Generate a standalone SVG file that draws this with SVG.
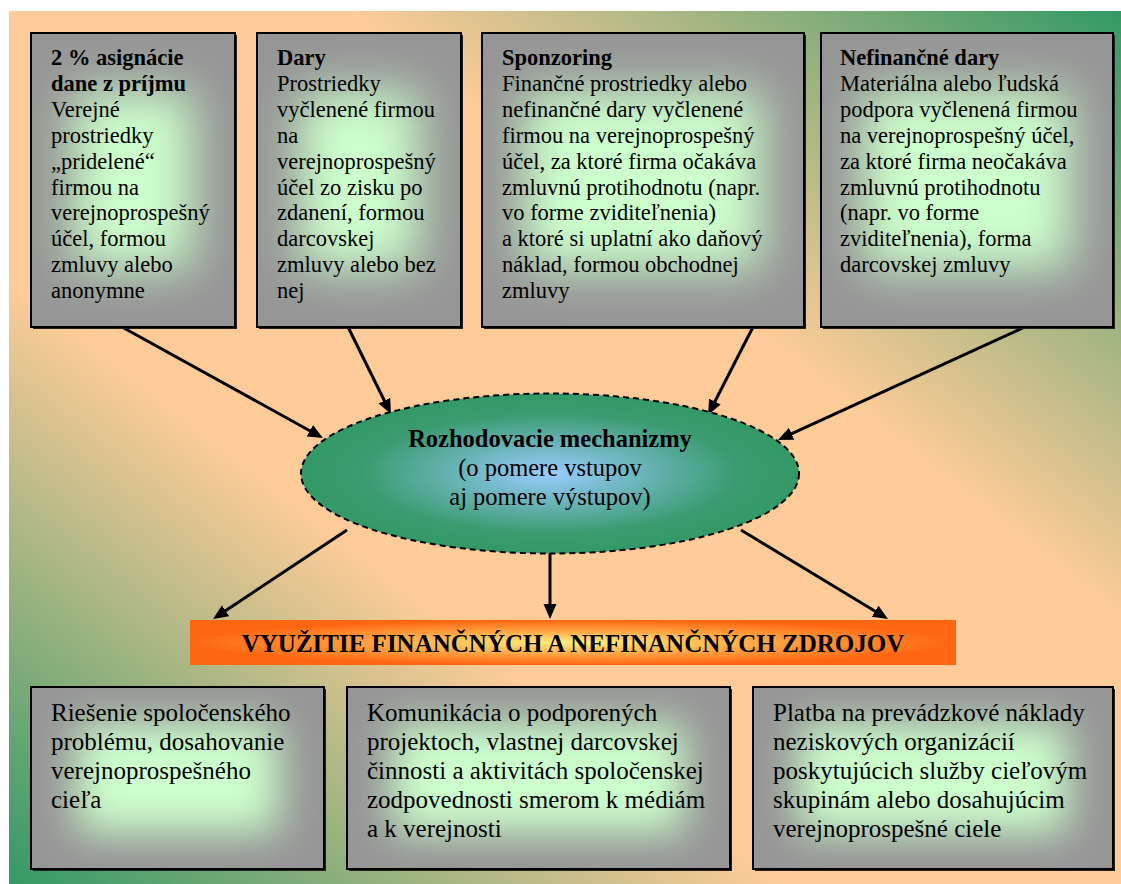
<svg xmlns="http://www.w3.org/2000/svg" width="1121" height="884" viewBox="0 0 1121 884">
<defs>
<linearGradient id="bg" x1="1" y1="0" x2="0" y2="1">
<stop offset="0" stop-color="#339966"/>
<stop offset="0.35" stop-color="#FFCC99"/>
<stop offset="0.65" stop-color="#FFCC99"/>
<stop offset="1" stop-color="#339966"/>
</linearGradient>
<radialGradient id="ellg" cx="0.5" cy="0.5" r="0.5">
<stop offset="0" stop-color="#99CCFF"/>
<stop offset="0.75" stop-color="#3B9B70"/>
<stop offset="1" stop-color="#339966"/>
</radialGradient>
<radialGradient id="bang" cx="0.5" cy="0.5" r="0.5">
<stop offset="0" stop-color="#FFF080"/>
<stop offset="0.55" stop-color="#FFA040"/>
<stop offset="1" stop-color="#FF6611"/>
</radialGradient>
<filter id="glowT" x="0" y="0" width="1" height="1">
<feMorphology in="SourceGraphic" operator="erode" radius="42 58"/>
<feGaussianBlur stdDeviation="24"/>
</filter>
<filter id="glowB" x="0" y="0" width="1" height="1">
<feMorphology in="SourceGraphic" operator="erode" radius="45 36"/>
<feGaussianBlur stdDeviation="20"/>
</filter>
<marker id="ah" markerUnits="userSpaceOnUse" markerWidth="16" markerHeight="14" viewBox="0 0 16 14" refX="1" refY="6.5" orient="auto">
<path d="M0,0 L15,6.5 L0,13 z" fill="#000"/>
</marker>
</defs>
<style>
.box{fill:#969696;stroke:#000;stroke-width:2}
.gT{fill:#CCFFCC;filter:url(#glowT)}
.gB{fill:#CCFFCC;filter:url(#glowB)}
.sh{fill:#222}
.t{font-family:"Liberation Serif","Times New Roman",serif;font-size:22.5px;fill:#000}
.tb{font-family:"Liberation Serif","Times New Roman",serif;font-size:25px;fill:#000}
.b{font-weight:bold}
.c{stroke:#000;stroke-width:3;fill:none;marker-end:url(#ah)}
</style>
<rect x="9" y="11" width="1112" height="873" fill="url(#bg)"/>

<g id="connectors">
<line class="c" x1="122" y1="327" x2="310.7" y2="431.2"/>
<line class="c" x1="348" y1="327" x2="384.8" y2="401.5"/>
<line class="c" x1="753" y1="327" x2="714.4" y2="402.5"/>
<line class="c" x1="1025" y1="327" x2="790.7" y2="434.2"/>
<line class="c" x1="347" y1="530" x2="224.7" y2="611.3"/>
<line class="c" x1="550" y1="553" x2="550" y2="605"/>
<line class="c" x1="741" y1="530" x2="876" y2="611.7"/>
</g>

<g id="n1">
<rect class="sh" x="33" y="35" width="204" height="294"/>
<rect class="box" x="31" y="33" width="204" height="294"/>
<rect class="gT" x="32" y="34" width="202" height="292"/>
<text class="t"><tspan class="b" x="51" y="65">2 % asignácie</tspan><tspan class="b" x="51" y="90.9">dane z príjmu</tspan><tspan x="51" y="116.8">Verejné</tspan><tspan x="51" y="142.7">prostriedky</tspan><tspan x="51" y="168.6">„pridelené“</tspan><tspan x="51" y="194.5">firmou na</tspan><tspan x="51" y="220.4">verejnoprospešný</tspan><tspan x="51" y="246.3">účel, formou</tspan><tspan x="51" y="272.2">zmluvy alebo</tspan><tspan x="51" y="298.1">anonymne</tspan></text>
</g>

<g id="n2">
<rect class="sh" x="259" y="35" width="204" height="294"/>
<rect class="box" x="257" y="33" width="204" height="294"/>
<rect class="gT" x="258" y="34" width="202" height="292"/>
<text class="t"><tspan class="b" x="277" y="65">Dary</tspan><tspan x="277" y="90.9">Prostriedky</tspan><tspan x="277" y="116.8">vyčlenené firmou</tspan><tspan x="277" y="142.7">na</tspan><tspan x="277" y="168.6">verejnoprospešný</tspan><tspan x="277" y="194.5">účel zo zisku po</tspan><tspan x="277" y="220.4">zdanení, formou</tspan><tspan x="277" y="246.3">darcovskej</tspan><tspan x="277" y="272.2">zmluvy alebo bez</tspan><tspan x="277" y="298.1">nej</tspan></text>
</g>

<g id="n3">
<rect class="sh" x="484" y="35" width="322" height="294"/>
<rect class="box" x="482" y="33" width="322" height="294"/>
<rect class="gT" x="483" y="34" width="320" height="292"/>
<text class="t"><tspan class="b" x="502" y="65">Sponzoring</tspan><tspan x="502" y="90.9">Finančné prostriedky alebo</tspan><tspan x="502" y="116.8">nefinančné dary vyčlenené</tspan><tspan x="502" y="142.7">firmou na verejnoprospešný</tspan><tspan x="502" y="168.6">účel, za ktoré firma očakáva</tspan><tspan x="502" y="194.5">zmluvnú protihodnotu (napr.</tspan><tspan x="502" y="220.4">vo forme zviditeľnenia)</tspan><tspan x="502" y="246.3">a ktoré si uplatní ako daňový</tspan><tspan x="502" y="272.2">náklad, formou obchodnej</tspan><tspan x="502" y="298.1">zmluvy</tspan></text>
</g>

<g id="n4">
<rect class="sh" x="823" y="35" width="292" height="294"/>
<rect class="box" x="821" y="33" width="292" height="294"/>
<rect class="gT" x="822" y="34" width="290" height="292"/>
<text class="t"><tspan class="b" x="840" y="65">Nefinančné dary</tspan><tspan x="840" y="90.9">Materiálna alebo ľudská</tspan><tspan x="840" y="116.8">podpora vyčlenená firmou</tspan><tspan x="840" y="142.7">na verejnoprospešný účel,</tspan><tspan x="840" y="168.6">za ktoré firma neočakáva</tspan><tspan x="840" y="194.5">zmluvnú protihodnotu</tspan><tspan x="840" y="220.4">(napr. vo forme</tspan><tspan x="840" y="246.3">zviditeľnenia), forma</tspan><tspan x="840" y="272.2">darcovskej zmluvy</tspan></text>
</g>

<g id="mechanizmy">
<ellipse cx="550" cy="473.5" rx="249" ry="80" fill="url(#ellg)" stroke="#000" stroke-width="2" stroke-dasharray="6 4"/>
<text class="t" text-anchor="middle" style="font-size:24.5px"><tspan class="b" x="550" y="447">Rozhodovacie mechanizmy</tspan><tspan x="550" y="476">(o pomere vstupov</tspan><tspan x="550" y="505">aj pomere výstupov)</tspan></text>
</g>

<g id="vyuzitie">
<rect x="190" y="620" width="766" height="45" fill="url(#bang)"/>
<text class="tb b" x="573" y="652" text-anchor="middle">VYUŽITIE FINANČNÝCH A NEFINANČNÝCH ZDROJOV</text>
</g>

<g id="o1">
<rect class="sh" x="33" y="689" width="293" height="182"/>
<rect class="box" x="31" y="687" width="293" height="182"/>
<rect class="gB" x="32" y="688" width="291" height="180"/>
<text class="tb"><tspan x="51" y="721">Riešenie spoločenského</tspan><tspan x="51" y="750">problému, dosahovanie</tspan><tspan x="51" y="779">verejnoprospešného</tspan><tspan x="51" y="808">cieľa</tspan></text>
</g>

<g id="o2">
<rect class="sh" x="349" y="689" width="383" height="182"/>
<rect class="box" x="347" y="687" width="383" height="182"/>
<rect class="gB" x="348" y="688" width="381" height="180"/>
<text class="tb"><tspan x="367" y="721">Komunikácia o podporených</tspan><tspan x="367" y="750">projektoch, vlastnej darcovskej</tspan><tspan x="367" y="779">činnosti a aktivitách spoločenskej</tspan><tspan x="367" y="808">zodpovednosti smerom k médiám</tspan><tspan x="367" y="837">a k verejnosti</tspan></text>
</g>

<g id="o3">
<rect class="sh" x="755" y="689" width="360" height="182"/>
<rect class="box" x="753" y="687" width="360" height="182"/>
<rect class="gB" x="754" y="688" width="358" height="180"/>
<text class="tb"><tspan x="773" y="721">Platba na prevádzkové náklady</tspan><tspan x="773" y="750">neziskových organizácií</tspan><tspan x="773" y="779">poskytujúcich služby cieľovým</tspan><tspan x="773" y="808">skupinám alebo dosahujúcim</tspan><tspan x="773" y="837">verejnoprospešné ciele</tspan></text>
</g>
</svg>
